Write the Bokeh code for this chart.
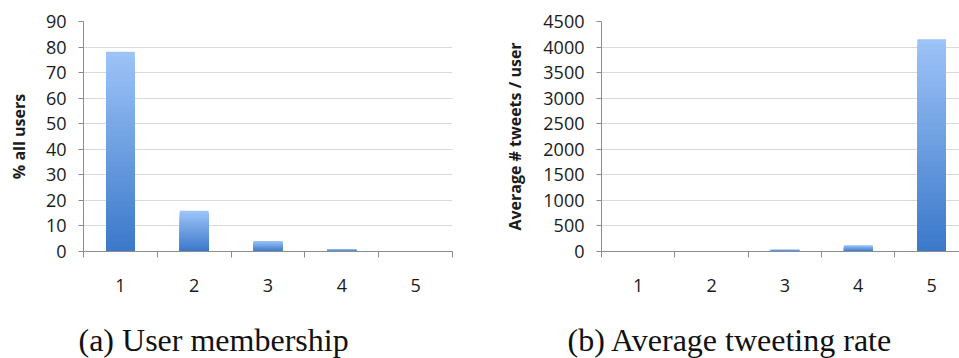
from bokeh.plotting import figure
from bokeh.models import (ColumnDataSource, Range1d, FixedTicker, SingleIntervalTicker, Label)
from bokeh.layouts import row, column
from bokeh.embed import file_html
from bokeh.resources import INLINE

# ---- data ----
categories = [1, 2, 3, 4, 5]
category_labels = ["1", "2", "3", "4", "5"]
membership_pct = [78.2, 15.9, 4.1, 0.9, 0.15]
avg_tweets = [1, 4, 35, 118, 4155]

left_ylabel = "% all users"
right_ylabel = "Average # tweets / user"
left_caption = "(a) User membership"
right_caption = "(b) Average tweeting rate"

TOP_RGB = (158, 196, 248)
BOT_RGB = (58, 120, 201)
N_STEPS = 40
FONT = "Open Sans"
CHART_H = 318
CAP_H = 40


def gradient_source(xs, vals):
    x_out, top_out, col_out = [], [], []
    for k in range(N_STEPS, 0, -1):
        f = (k - 0.5) / N_STEPS
        r = round(BOT_RGB[0] + (TOP_RGB[0] - BOT_RGB[0]) * f)
        g = round(BOT_RGB[1] + (TOP_RGB[1] - BOT_RGB[1]) * f)
        b = round(BOT_RGB[2] + (TOP_RGB[2] - BOT_RGB[2]) * f)
        c = "#%02x%02x%02x" % (r, g, b)
        for x, v in zip(xs, vals):
            x_out.append(x)
            top_out.append(v * k / N_STEPS)
            col_out.append(c)
    return ColumnDataSource(dict(x=x_out, top=top_out, color=col_out))


def make_fig(vals, ymax, yint, ylabel, width, x_end,
             left_b, right_b, top_b, frame_h, lab_standoff):
    p = figure(width=width, height=CHART_H, output_backend="svg", toolbar_location=None,
               x_range=Range1d(0.5, x_end), y_range=Range1d(0, ymax),
               min_border_left=left_b, min_border_right=right_b,
               min_border_top=top_b, min_border_bottom=CHART_H - top_b - frame_h)
    p.outline_line_color = None
    p.background_fill_color = "white"
    p.border_fill_color = "white"

    src = gradient_source(categories, vals)
    p.vbar(x="x", top="top", bottom=0, width=0.39, fill_color="color",
           line_color=None, source=src)

    # x axis
    xa = p.xaxis[0]
    xa.ticker = FixedTicker(ticks=categories,
                            minor_ticks=[c - 0.5 for c in categories] + [categories[-1] + 0.5])
    xa.major_label_overrides = {c: l for c, l in zip(categories, category_labels)}
    xa.major_tick_line_color = None
    xa.major_tick_out = 0
    xa.major_tick_in = 0
    xa.minor_tick_out = 6
    xa.minor_tick_in = 0
    xa.minor_tick_line_color = "#8c8c8c"
    xa.axis_line_color = "#8c8c8c"
    xa.major_label_standoff = 21
    xa.major_label_text_font = FONT
    xa.major_label_text_font_size = "18px"
    xa.major_label_text_color = "#1a1a1a"

    # y axis
    ya = p.yaxis[0]
    ya.ticker = SingleIntervalTicker(interval=yint, num_minor_ticks=0)
    ya.major_tick_out = 5
    ya.major_tick_in = 0
    ya.minor_tick_line_color = None
    ya.major_tick_line_color = "#8c8c8c"
    ya.axis_line_color = "#8c8c8c"
    ya.major_label_standoff = 12
    ya.major_label_text_font = FONT
    ya.major_label_text_font_size = "18px"
    ya.major_label_text_color = "#1a1a1a"
    ya.axis_label = ylabel
    ya.axis_label_text_font = FONT
    ya.axis_label_text_font_style = "bold"
    ya.axis_label_text_font_size = "16px"
    ya.axis_label_text_color = "#1a1a1a"
    ya.axis_label_standoff = lab_standoff

    p.xgrid.grid_line_color = None
    p.ygrid.grid_line_color = "#d9d9d9"
    p.ygrid.grid_line_width = 1
    return p


def make_caption(text, width, x_off, baseline_from_bottom):
    c = figure(width=width, height=CAP_H, output_backend="svg", toolbar_location=None,
               x_axis_type=None, y_axis_type=None,
               x_range=Range1d(0, 1), y_range=Range1d(0, 1),
               min_border=0)
    c.outline_line_color = None
    c.xgrid.grid_line_color = None
    c.ygrid.grid_line_color = None
    c.add_layout(Label(x=x_off, y=baseline_from_bottom, x_units="screen", y_units="screen",
                       text=text, text_font="Liberation Serif", text_font_size="32px",
                       text_color="#111111", text_align="left",
                       text_baseline="alphabetic"))
    return c


p1 = make_fig(membership_pct, 90, 10, left_ylabel, 490, 5.5, 83, 38, 18, 234, 13)
p2 = make_fig(avg_tweets, 4500, 500, right_ylabel, 469, 5.38, 111, 0, 21, 230, 14)
c1 = make_caption(left_caption, 490, 78, 19)
c2 = make_caption(right_caption, 469, 77, 19)

layout = column(row(p1, p2, spacing=0), row(c1, c2, spacing=0), spacing=0)

open("out.html", "w").write(file_html(layout, INLINE))
